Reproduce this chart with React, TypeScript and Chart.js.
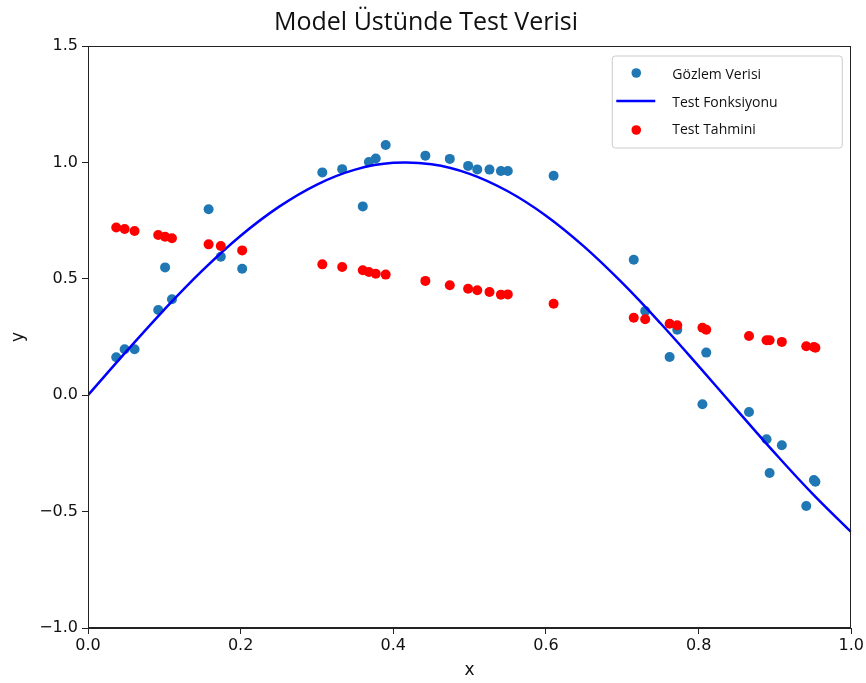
import React, { useEffect, useRef } from "react";
import { Chart, registerables } from "chart.js";

Chart.register(...registerables);

const chartTitle = "Model Üstünde Test Verisi";
const seriesLabels = ["Gözlem Verisi", "Test Fonksiyonu", "Test Tahmini"];

const xObs = [
  0.037, 0.048, 0.061, 0.092, 0.101, 0.110, 0.158, 0.174, 0.202,
  0.307, 0.333, 0.360, 0.368, 0.377, 0.390, 0.442, 0.474, 0.498,
  0.510, 0.526, 0.541, 0.550, 0.610, 0.715, 0.730, 0.762, 0.772,
  0.805, 0.810, 0.866, 0.889, 0.893, 0.909, 0.941, 0.951, 0.953,
];
const yObs = [
  0.163, 0.197, 0.197, 0.366, 0.549, 0.412, 0.799, 0.595, 0.543,
  0.957, 0.971, 0.811, 1.002, 1.017, 1.075, 1.029, 1.015, 0.985,
  0.970, 0.969, 0.963, 0.963, 0.943, 0.582, 0.362, 0.164, 0.281,
  -0.039, 0.183, -0.072, -0.189, -0.334, -0.215, -0.476, -0.364, -0.372,
];
const yPred = [
  0.720, 0.714, 0.705, 0.688, 0.681, 0.674, 0.648, 0.641, 0.622,
  0.562, 0.551, 0.537, 0.529, 0.522, 0.518, 0.491, 0.472, 0.457,
  0.451, 0.443, 0.432, 0.433, 0.393, 0.333, 0.326, 0.307, 0.300,
  0.290, 0.281, 0.254, 0.236, 0.236, 0.229, 0.210, 0.207, 0.204,
];
const xLine = [
  0.0, 0.05, 0.1, 0.15, 0.2, 0.25, 0.3, 0.35, 0.4, 0.45, 0.5,
  0.55, 0.6, 0.65, 0.7, 0.75, 0.8, 0.85, 0.9, 0.95, 1.0,
];
const yLine = [
  0.0, 0.187, 0.368, 0.536, 0.685, 0.809, 0.905, 0.969, 0.998, 0.992, 0.951,
  0.876, 0.771, 0.638, 0.482, 0.309, 0.125, -0.063, -0.249, -0.426, -0.588,
];
const xTicks = [0, 0.2, 0.4, 0.6, 0.8, 1.0];
const yTicks = [-1.0, -0.5, 0.0, 0.5, 1.0, 1.5];

const BLUE_PT = "#1f77b4";
const LINE_C = "#0000ff";
const RED_PT = "#ff0000";
const AXIS_C = "#222222";
const TICK_FONT = "'DejaVu Sans', sans-serif";
const TEXT_FONT = "'Open Sans', 'Noto Sans', sans-serif";

const fmt = (v: number) => {
  const s = Math.abs(v).toFixed(1);
  return v < -1e-9 ? "\u2212" + s : s;
};

const framePlugin = {
  id: "frameAndLegend",
  afterDraw(chart: any) {
    const { ctx, chartArea } = chart;
    ctx.save();
    // frame
    ctx.strokeStyle = AXIS_C;
    ctx.lineWidth = 1;
    ctx.strokeRect(
      Math.round(chartArea.left) + 0.5,
      Math.round(chartArea.top) + 0.5,
      Math.round(chartArea.right - chartArea.left) - 1,
      Math.round(chartArea.bottom - chartArea.top) - 1
    );
    // legend
    const w = 230;
    const h = 92;
    const x0 = chartArea.right - 9 - w;
    const y0 = chartArea.top + 10;
    ctx.fillStyle = "rgba(255,255,255,0.85)";
    ctx.strokeStyle = "#cccccc";
    ctx.lineWidth = 1;
    ctx.beginPath();
    const r = 3;
    ctx.moveTo(x0 + r, y0);
    ctx.lineTo(x0 + w - r, y0);
    ctx.arcTo(x0 + w, y0, x0 + w, y0 + r, r);
    ctx.lineTo(x0 + w, y0 + h - r);
    ctx.arcTo(x0 + w, y0 + h, x0 + w - r, y0 + h, r);
    ctx.lineTo(x0 + r, y0 + h);
    ctx.arcTo(x0, y0 + h, x0, y0 + h - r, r);
    ctx.lineTo(x0, y0 + r);
    ctx.arcTo(x0, y0, x0 + r, y0, r);
    ctx.closePath();
    ctx.fill();
    ctx.stroke();

    const rows = [y0 + 18, y0 + 46, y0 + 73];
    const markerX = x0 + 24;
    const textX = x0 + 60;
    // row 1: blue dot
    ctx.fillStyle = BLUE_PT;
    ctx.beginPath();
    ctx.arc(markerX, rows[0] - 1, 4.8, 0, Math.PI * 2);
    ctx.fill();
    // row 2: line
    ctx.strokeStyle = LINE_C;
    ctx.lineWidth = 2.5;
    ctx.beginPath();
    ctx.moveTo(x0 + 4, rows[1] - 1);
    ctx.lineTo(x0 + 43, rows[1] - 1);
    ctx.stroke();
    // row 3: red dot
    ctx.fillStyle = RED_PT;
    ctx.beginPath();
    ctx.arc(markerX, rows[2] + 1, 4.8, 0, Math.PI * 2);
    ctx.fill();

    ctx.fillStyle = "#111111";
    ctx.font = "14px " + TEXT_FONT;
    ctx.textBaseline = "middle";
    ctx.textAlign = "left";
    seriesLabels.forEach((lbl, i) => {
      ctx.fillText(lbl, textX, rows[i] + 1);
    });
    ctx.restore();
  },
};

export default function App() {
  const canvasRef = useRef<HTMLCanvasElement | null>(null);

  useEffect(() => {
    if (!canvasRef.current) return;
    const obsPts = xObs.map((x, i) => ({ x, y: yObs[i] }));
    const predPts = xObs.map((x, i) => ({ x, y: yPred[i] }));
    const linePts = xLine.map((x, i) => ({ x, y: yLine[i] }));

    const chart = new Chart(canvasRef.current, {
      type: "scatter",
      data: {
        datasets: [
          {
            label: seriesLabels[0],
            data: obsPts,
            backgroundColor: BLUE_PT,
            borderWidth: 0,
            pointRadius: 5,
            order: 3,
          },
          {
            label: seriesLabels[1],
            data: linePts,
            showLine: true,
            borderColor: LINE_C,
            backgroundColor: LINE_C,
            borderWidth: 2.5,
            pointRadius: 0,
            tension: 0.4,
            order: 2,
          } as any,
          {
            label: seriesLabels[2],
            data: predPts,
            backgroundColor: RED_PT,
            borderWidth: 0,
            pointRadius: 5,
            order: 1,
          },
        ],
      },
      options: {
        responsive: false,
        animation: false,
        layout: { padding: { left: 0, right: 14, top: 0, bottom: 0 } },
        plugins: {
          legend: { display: false },
          tooltip: { enabled: false },
          title: {
            display: true,
            text: chartTitle,
            color: "#111111",
            font: { family: TEXT_FONT, size: 25, weight: "normal" },
            padding: { top: 8, bottom: 8 },
          },
        },
        scales: {
          x: {
            type: "linear",
            min: 0,
            max: 1,
            afterFit: (s: any) => {
              s.height = 55;
            },
            afterBuildTicks: (s: any) => {
              s.ticks = xTicks.map((v) => ({ value: v }));
            },
            ticks: {
              color: "#111111",
              font: { family: TICK_FONT, size: 16 },
              padding: 2,
              maxRotation: 0,
              callback: (v: any) => fmt(Number(v)),
            },
            grid: {
              display: true,
              drawOnChartArea: false,
              drawTicks: true,
              tickLength: 6,
              color: AXIS_C,
            },
            border: { display: true, color: AXIS_C, width: 1 },
            title: {
              display: true,
              text: "x",
              color: "#111111",
              font: { family: TICK_FONT, size: 17 },
              padding: { top: 0, bottom: 2 },
            },
          },
          y: {
            type: "linear",
            min: -1,
            max: 1.5,
            afterFit: (s: any) => {
              s.width = 88;
            },
            afterBuildTicks: (s: any) => {
              s.ticks = yTicks.map((v) => ({ value: v }));
            },
            ticks: {
              color: "#111111",
              font: { family: TICK_FONT, size: 16 },
              padding: 4,
              callback: (v: any) => fmt(Number(v)),
            },
            grid: {
              display: true,
              drawOnChartArea: false,
              drawTicks: true,
              tickLength: 6,
              color: AXIS_C,
            },
            border: { display: true, color: AXIS_C, width: 1 },
            title: {
              display: true,
              text: "y",
              color: "#111111",
              font: { family: TICK_FONT, size: 17 },
              padding: { top: 8, bottom: 0 },
            },
          },
        },
      },
      plugins: [framePlugin],
    } as any);

    return () => {
      chart.destroy();
    };
  }, []);

  return (
    <div style={{ position: "absolute", left: 0, top: 0, width: 866, height: 683, background: "#ffffff" }}>
      <canvas ref={canvasRef} width={866} height={683} style={{ display: "block" }} />
    </div>
  );
}
